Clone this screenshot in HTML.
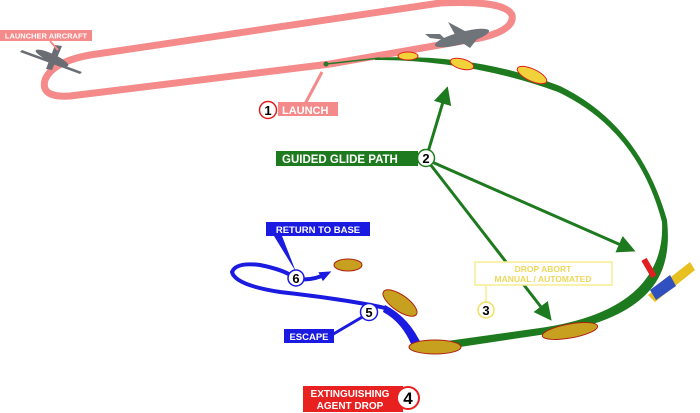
<!DOCTYPE html>
<html><head><meta charset="utf-8"><style>
html,body{margin:0;padding:0;background:#fff;width:700px;height:413px;overflow:hidden}
svg{display:block}
text{font-family:"Liberation Sans",sans-serif;font-weight:bold}
</style></head><body>
<svg width="700" height="413" viewBox="0 0 700 413" xmlns="http://www.w3.org/2000/svg">
<defs>
<marker id="ga" markerWidth="6" markerHeight="6" refX="4" refY="3" orient="auto" markerUnits="strokeWidth"><path d="M0,0 L6,3 L0,6 z" fill="#1e7a1e"/></marker>
<marker id="ba" markerWidth="12" markerHeight="10" refX="6" refY="5" orient="auto" markerUnits="userSpaceOnUse"><path d="M0,0 L12,5 L0,10 z" fill="#1a1ae0"/></marker>
</defs>
<path d="M330,64 L70,96 Q40,98 45,80 Q52,62 90,55 L440,3 Q505,0 512,15 Q515,30 480,38 L330,64" fill="none" stroke="#f48a8a" stroke-width="7"/>
<path d="M326,64 L380,58" stroke="#2a7a2a" stroke-width="1.5" fill="none"/>
<circle cx="326" cy="64" r="2.5" fill="#2a7a2a"/>
<path d="M375,58 Q470,52 560,86 Q640,125 667,220 Q672,265 650,290 Q620,325 540,335 L440,350 L440,342 L540,328 Q610,318 640,286 Q664,260 662,222 Q638,130 558,92 Q470,60 375,60 z" fill="#1e7a1e"/>
<g stroke="#1e7a1e" stroke-width="3" fill="none">
<line x1="428" y1="152" x2="446" y2="92" marker-end="url(#ga)"/>
<line x1="432" y1="162" x2="630" y2="249" marker-end="url(#ga)"/>
<line x1="430" y1="164" x2="548" y2="316" marker-end="url(#ga)"/>
</g>
<path d="M420,345 Q405,320 385,308 Q350,300 280,292 Q235,285 232,272 Q236,262 260,265 Q285,270 295,278 Q310,282 326,274" fill="none" stroke="#1a1ae0" stroke-width="4" marker-end="url(#ba)"/>
<path d="M422,346 Q410,318 385,305 L383,312 Q402,322 412,346 z" fill="#1a1ae0"/>
<g fill="#6a6e74">
<ellipse cx="52" cy="58" rx="18" ry="4" transform="rotate(25 52 58)"/>
<path d="M22,50 L82,72 L80,74 L20,52 z"/>
<path d="M55,45 L62,46 L52,70 L46,69 z"/>
</g>
<g fill="#6f737a">
<ellipse cx="462" cy="38" rx="28" ry="6" transform="rotate(-15 462 38)"/>
<path d="M448,22 L478,38 L470,48 L458,40 z"/>
<path d="M425,34 L440,34 L446,40 L430,38 z"/>
</g>
<g fill="#f2d23a" stroke="#e02020" stroke-width="1">
<ellipse cx="408" cy="56" rx="10" ry="4"/>
<ellipse cx="462" cy="64" rx="12" ry="5" transform="rotate(15 462 64)"/>
<ellipse cx="532" cy="75" rx="16" ry="6" transform="rotate(25 532 75)"/>
</g>
<g fill="#c8a020" stroke="#b02010" stroke-width="1">
<ellipse cx="400" cy="303" rx="20" ry="8" transform="rotate(35 400 303)"/>
<ellipse cx="435" cy="347" rx="26" ry="7"/>
<ellipse cx="570" cy="331" rx="28" ry="7" transform="rotate(-10 570 331)"/>
<ellipse cx="348" cy="265" rx="14" ry="6"/>
</g>
<path d="M648,295 L690,262 L695,270 L655,302 z" fill="#e8c020"/>
<path d="M650,290 L670,275 L676,286 L656,300 z" fill="#3050c0"/>
<rect x="646" y="258" width="6" height="20" fill="#e02020" transform="rotate(-30 649 268)"/>
<rect x="0" y="30" width="92" height="11" fill="#f48a8a"/>
<text x="46" y="38.5" font-size="7.5" fill="#fff" text-anchor="middle">LAUNCHER AIRCRAFT</text>
<line x1="50" y1="41" x2="58" y2="50" stroke="#f48a8a" stroke-width="2"/>
<line x1="305" y1="104" x2="322" y2="72" stroke="#f48a8a" stroke-width="3"/>
<rect x="278" y="102" width="60" height="14" fill="#f48a8a"/>
<text x="282" y="114" font-size="11" fill="#fff">LAUNCH</text>
<circle cx="268" cy="110" r="8.5" fill="#fff" stroke="#e02020" stroke-width="1.5"/>
<text x="268" y="115" font-size="13" fill="#000" text-anchor="middle">1</text>
<rect x="276" y="151" width="142" height="15" fill="#1e7a1e"/>
<text x="282" y="163" font-size="11.5" fill="#fff">GUIDED GLIDE PATH</text>
<circle cx="426" cy="158" r="8.5" fill="#fff" stroke="#1e7a1e" stroke-width="1.5"/>
<text x="426" y="163" font-size="13" fill="#000" text-anchor="middle">2</text>
<rect x="475" y="262" width="137" height="23" fill="#fff" stroke="#f5ee90" stroke-width="1.5"/>
<text x="543" y="272" font-size="8.5" fill="#ecd85a" text-anchor="middle">DROP ABORT</text>
<text x="543" y="282" font-size="8.5" fill="#ecd85a" text-anchor="middle">MANUAL / AUTOMATED</text>
<line x1="486" y1="285" x2="486" y2="302" stroke="#f5ee90" stroke-width="1.5"/>
<circle cx="486" cy="310" r="8" fill="#fff" stroke="#f0e060" stroke-width="1.5"/>
<text x="486" y="315" font-size="13" fill="#000" text-anchor="middle">3</text>
<rect x="266" y="222" width="104" height="14" fill="#1a1ae0"/>
<text x="318" y="233" font-size="9.5" fill="#fff" text-anchor="middle">RETURN TO BASE</text>
<path d="M274,236 L282,236 L296,272 z" fill="#1a1ae0"/>
<circle cx="296" cy="278" r="8" fill="#fff" stroke="#1a1ae0" stroke-width="1.5"/>
<text x="296" y="283" font-size="13" fill="#000" text-anchor="middle">6</text>
<rect x="284" y="329" width="50" height="14" fill="#1a1ae0"/>
<text x="309" y="340" font-size="9.5" fill="#fff" text-anchor="middle">ESCAPE</text>
<line x1="330" y1="336" x2="364" y2="316" stroke="#1a1ae0" stroke-width="3"/>
<circle cx="369" cy="312" r="8.5" fill="#fff" stroke="#1a1ae0" stroke-width="1.5"/>
<text x="369" y="317" font-size="13" fill="#000" text-anchor="middle">5</text>
<rect x="303" y="386" width="100" height="26" fill="#e82020"/>
<text x="350" y="397" font-size="10" fill="#fff" text-anchor="middle">EXTINGUISHING</text>
<text x="350" y="409" font-size="10" fill="#fff" text-anchor="middle">AGENT DROP</text>
<circle cx="408" cy="398" r="11" fill="#fff" stroke="#e82020" stroke-width="2"/>
<text x="408" y="404" font-size="17" fill="#000" text-anchor="middle">4</text>
</svg>
</body></html>
